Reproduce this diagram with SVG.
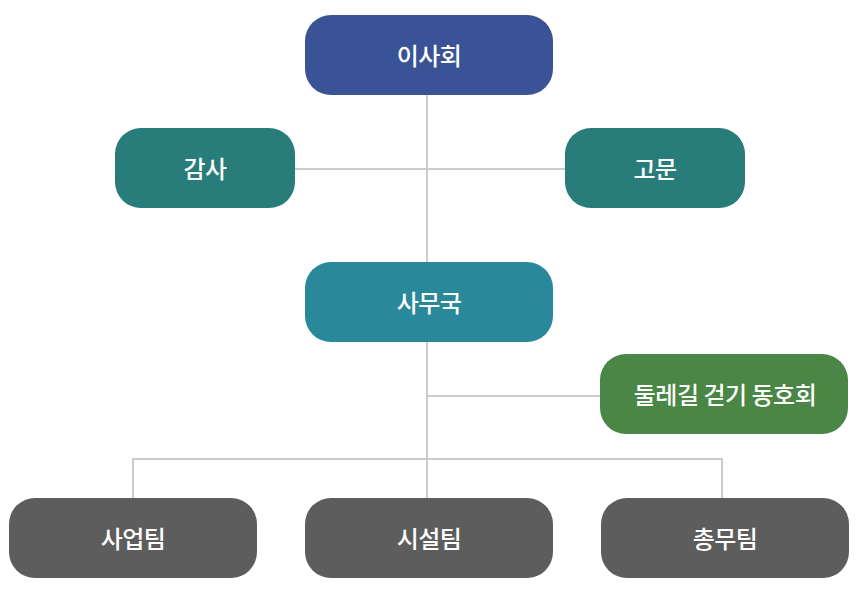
<svg xmlns="http://www.w3.org/2000/svg" width="860" height="599" viewBox="0 0 860 599">
<style>
.n text{font-family:"Noto Sans CJK KR","Noto Sans",sans-serif;font-size:24px;font-weight:500;fill:#ffffff;text-anchor:middle;dominant-baseline:central;letter-spacing:-0.5px}
.c line{stroke:#cccccc;stroke-width:2}
</style>
<rect width="860" height="599" fill="#ffffff"/>
<g id="connectors" class="c">
<line x1="427" y1="95" x2="427" y2="262"/>
<line x1="295" y1="169" x2="565" y2="169"/>
<line x1="427" y1="342" x2="427" y2="498"/>
<line x1="427" y1="396" x2="600" y2="396"/>
<line x1="133" y1="459" x2="722" y2="459"/>
<line x1="133" y1="458" x2="133" y2="498"/>
<line x1="722" y1="458" x2="722" y2="498"/>
</g>
<g id="board" class="n"><rect x="305" y="15" width="248" height="80" rx="26" fill="#3a5396"/><text x="429" y="54">이사회</text></g>
<g id="audit" class="n"><rect x="115" y="128" width="180" height="80" rx="26" fill="#287c7a"/><text x="205" y="167">감사</text></g>
<g id="advisor" class="n"><rect x="565" y="128" width="180" height="80" rx="26" fill="#287c7a"/><text x="655" y="167">고문</text></g>
<g id="secretariat" class="n"><rect x="305" y="262" width="248" height="80" rx="26" fill="#2a889b"/><text x="429" y="301">사무국</text></g>
<g id="club" class="n"><rect x="600" y="354" width="248" height="80" rx="26" fill="#4a8645"/><text x="725" y="393">둘레길 걷기 동호회</text></g>
<g id="business" class="n"><rect x="9" y="498" width="248" height="80" rx="26" fill="#5d5d5d"/><text x="133" y="537">사업팀</text></g>
<g id="facility" class="n"><rect x="305" y="498" width="248" height="80" rx="26" fill="#5d5d5d"/><text x="429" y="537">시설팀</text></g>
<g id="general" class="n"><rect x="601" y="498" width="248" height="80" rx="26" fill="#5d5d5d"/><text x="725" y="537">총무팀</text></g>
</svg>
